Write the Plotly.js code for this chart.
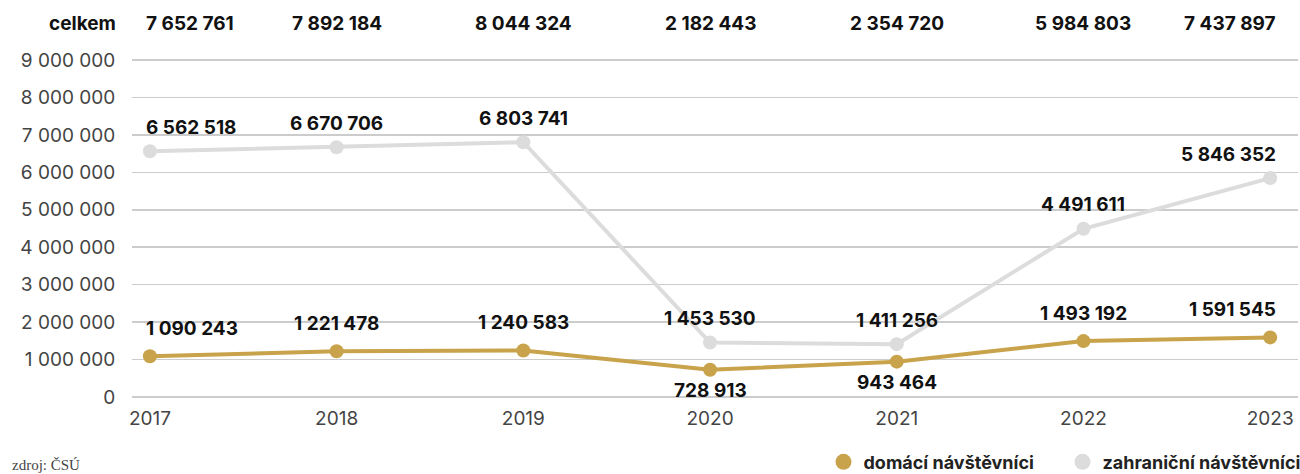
<!DOCTYPE html>
<html>
<head>
<meta charset="utf-8">
<script src="https://cdn.plot.ly/plotly-3.0.1.min.js"></script>
<style>html,body{margin:0;padding:0;background:#fff;}#chart{width:1300px;height:474px;}</style>
</head>
<body>
<div id="chart"></div>
<script>
const years = ['2017', '2018', '2019', '2020', '2021', '2022', '2023'];
const domestic = [1090243, 1221478, 1240583, 728913, 943464, 1493192, 1591545];
const foreign = [6562518, 6670706, 6803741, 1453530, 1411256, 4491611, 5846352];
const totals = [7652761, 7892184, 8044324, 2182443, 2354720, 5984803, 7437897];
const yTicks = [0, 1000000, 2000000, 3000000, 4000000, 5000000, 6000000, 7000000, 8000000, 9000000];
const totalLabel = 'celkem';
const seriesNames = ['domácí návštěvníci', 'zahraniční návštěvníci'];
const sourceText = 'zdroj: ČSÚ';

const GOLD = '#c9a34b';
const GRAY = '#dcdcdc';
const FONT = 'Inter, "DejaVu Sans", sans-serif';

function fmt(v) {
  return String(v).replace(/\B(?=(\d{3})+(?!\d))/g, ' ');
}

const traces = [
  {x: years, y: foreign, type: 'scatter', mode: 'lines+markers', name: seriesNames[1],
   line: {color: GRAY, width: 4}, marker: {color: GRAY, size: 14}, showlegend: false, hoverinfo: 'skip'},
  {x: years, y: domestic, type: 'scatter', mode: 'lines+markers', name: seriesNames[0],
   line: {color: GOLD, width: 4}, marker: {color: GOLD, size: 14}, showlegend: false, hoverinfo: 'skip'},
  {x: [null], y: [null], type: 'scatter', mode: 'markers', name: seriesNames[0],
   marker: {color: GOLD, size: 20}, showlegend: true},
  {x: [null], y: [null], type: 'scatter', mode: 'markers', name: seriesNames[1],
   marker: {color: GRAY, size: 20}, showlegend: true}
];

const annotations = [];
const last = years.length - 1;
function anchorFor(i) {
  if (i === 0) return {xanchor: 'left', xshift: -6};
  if (i === last) return {xanchor: 'right', xshift: 8};
  return {xanchor: 'center', xshift: 0};
}
const labelFont = {family: FONT, size: 19, color: '#111', weight: 700};

years.forEach((yr, i) => {
  const a = anchorFor(i);
  annotations.push({x: i, xref: 'x', y: 1.10, yref: 'paper', text: fmt(totals[i]),
    showarrow: false, yanchor: 'middle', xanchor: a.xanchor, xshift: a.xshift, font: labelFont});
  annotations.push({x: i, xref: 'x', y: foreign[i], yref: 'y', text: fmt(foreign[i]), showarrow: false,
    yanchor: 'middle', yshift: 24, xanchor: a.xanchor, xshift: a.xshift, font: labelFont});
  const below = (foreign[i] - domestic[i]) < 1000000;
  annotations.push({x: i, xref: 'x', y: domestic[i], yref: 'y', text: fmt(domestic[i]), showarrow: false,
    yanchor: 'middle', yshift: below ? -21 : 28, xanchor: a.xanchor, xshift: a.xshift, font: labelFont});
});

annotations.push({x: 0, xref: 'paper', xanchor: 'right', xshift: -14, y: 1.10, yref: 'paper',
  yanchor: 'middle', text: totalLabel, showarrow: false, font: labelFont});
annotations.push({x: -0.105, xref: 'paper', y: -0.194, yref: 'paper', showarrow: false, text: sourceText,
  xanchor: 'left', yanchor: 'middle', font: {family: '"Liberation Serif", "DejaVu Serif", serif', size: 15, color: '#444'}});

const layout = {
  width: 1300, height: 474,
  margin: {l: 132, r: 2, t: 58, b: 75, autoexpand: false},
  paper_bgcolor: '#fff', plot_bgcolor: '#fff',
  font: {family: FONT, color: '#444'},
  xaxis: {type: 'category', range: [-0.096, 6.149], showgrid: false, zeroline: false, showline: false,
    automargin: false,
    ticks: 'outside', ticklen: 2, tickcolor: 'rgba(0,0,0,0)', tickfont: {family: FONT, size: 19, color: '#444'}},
  yaxis: {range: [-53400, 9053400], tickvals: yTicks, ticktext: yTicks.map(fmt), showgrid: true,
    automargin: false,
    gridcolor: '#cccccc', gridwidth: 1.5, zeroline: false, showline: false,
    ticks: 'outside', ticklen: 12, tickcolor: 'rgba(0,0,0,0)', tickfont: {family: FONT, size: 19, color: '#444'}},
  legend: {orientation: 'h', x: 1.003, xanchor: 'right', y: -0.185, yanchor: 'middle',
    font: {family: FONT, size: 18, color: '#222', weight: 700}, itemsizing: 'trace', bgcolor: 'rgba(0,0,0,0)',
    entrywidth: 194, entrywidthmode: 'pixels'},
  annotations: annotations,
  showlegend: true
};

Plotly.newPlot('chart', traces, layout, {displayModeBar: false, staticPlot: true});
</script>
</body>
</html>
